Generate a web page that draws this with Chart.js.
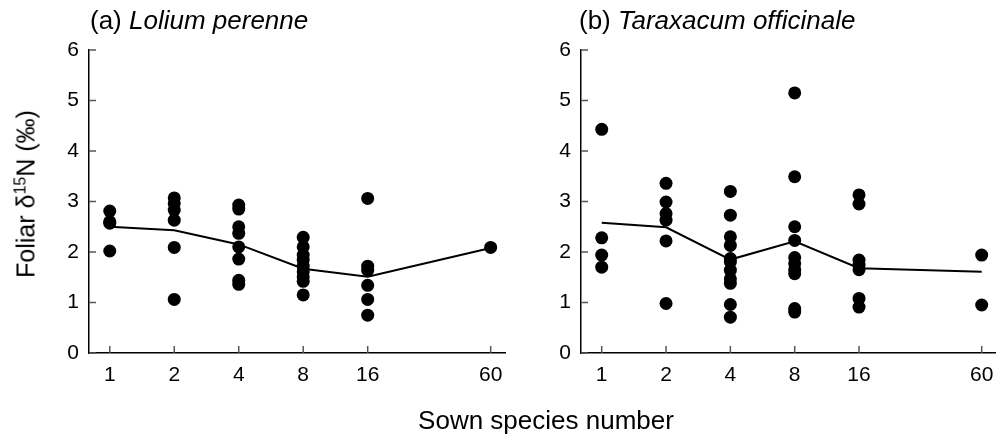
<!DOCTYPE html>
<html>
<head>
<meta charset="utf-8">
<script src="https://cdn.jsdelivr.net/npm/chart.js@4/dist/chart.umd.min.js"></script>
<style>
  body { margin: 0; background: #fff; overflow: hidden; }
  #wrap { position: relative; width: 996px; height: 438px; overflow: hidden; font-family: "Liberation Sans", Arial, sans-serif; color: #000; }
  .box { position: absolute; top: 0; height: 438px; }
  .title { position: absolute; top: 5px; font-size: 26px; line-height: 30px; white-space: nowrap; }
  .ylab { position: absolute; left: 26px; top: 194px; font-size: 25px; white-space: nowrap;
          transform: translate(-50%, -50%) rotate(-90deg); }
  .ylab sup { font-size: 16px; vertical-align: 9px; line-height: 0; }
  .xlab { position: absolute; left: 546px; top: 420px; font-size: 26px; white-space: nowrap;
          transform: translate(-50%, -50%); }
</style>
</head>
<body>
<div id="wrap">
  <div class="box" style="left:0;width:520px"><canvas id="chartA"></canvas></div>
  <div class="box" style="left:496px;width:515px"><canvas id="chartB"></canvas></div>
  <div class="title" style="left:90px">(a) <i>Lolium perenne</i></div>
  <div class="title" style="left:579px">(b) <i>Taraxacum officinale</i></div>
  <div class="ylab">Foliar &delta;<sup>15</sup>N (&permil;)</div>
  <div class="xlab">Sown species number</div>
</div>
<script>
// sown species number (x categories, log scale)
const sown = [1, 2, 4, 8, 16, 60];
const yTicks = [0, 1, 2, 3, 4, 5, 6];

// (a) Lolium perenne - plot values per sown level
const loliumPts = [
  [2.81, 2.60, 2.57, 2.02],
  [3.07, 2.96, 2.83, 2.63, 2.09, 1.06],
  [2.93, 2.85, 2.50, 2.37, 2.10, 1.86, 1.44, 1.36],
  [2.29, 2.10, 1.94, 1.84, 1.72, 1.61, 1.51, 1.42, 1.15],
  [3.06, 1.72, 1.64, 1.34, 1.06, 0.75],
  [2.09]
];
const loliumLine = [2.50, 2.43, 2.15, 1.67, 1.51, 2.08];

// (b) Taraxacum officinale
const taraxPts = [
  [4.43, 2.28, 1.94, 1.70],
  [3.36, 2.99, 2.76, 2.63, 2.22, 0.98],
  [3.20, 2.73, 2.30, 2.13, 1.87, 1.80, 1.64, 1.47, 1.38, 0.96, 0.71],
  [5.15, 3.49, 2.50, 2.23, 1.89, 1.77, 1.65, 1.57, 0.88, 0.81],
  [3.13, 2.95, 1.84, 1.74, 1.65, 1.08, 0.91],
  [1.94, 0.95]
];
const taraxLine = [2.58, 2.49, 1.85, 2.21, 1.68, 1.61];

const FONT = "'Liberation Sans', Arial, sans-serif";

// ticks pointing into the plot area
const innerTicks = {
  id: 'innerTicks',
  afterDatasetsDraw(chart) {
    const ctx = chart.ctx, xs = chart.scales.x, ys = chart.scales.y;
    ctx.save();
    ctx.strokeStyle = '#555';
    ctx.lineWidth = 1.5;
    ctx.beginPath();
    xs.ticks.forEach(t => {
      const px = xs.getPixelForValue(t.value);
      ctx.moveTo(px, ys.bottom);
      ctx.lineTo(px, ys.bottom - 7);
    });
    ys.ticks.forEach(t => {
      const py = ys.getPixelForValue(t.value);
      ctx.moveTo(xs.left, py);
      ctx.lineTo(xs.left + 7, py);
    });
    ctx.stroke();
    ctx.restore();
  }
};

function makeChart(id, pts, line, yWidth, rightPad) {
  const scatter = [];
  pts.forEach((grp, i) => grp.forEach(v => scatter.push({ x: sown[i], y: v })));
  const means = line.map((v, i) => ({ x: sown[i], y: v }));

  return new Chart(document.getElementById(id), {
    type: 'scatter',
    data: {
      datasets: [
        { data: scatter, backgroundColor: '#000', borderColor: '#000', pointRadius: 6.5, pointHoverRadius: 6.5, borderWidth: 0 },
        { data: means, showLine: true, borderColor: '#000', borderWidth: 2, pointRadius: 0, fill: false }
      ]
    },
    options: {
      responsive: true,
      maintainAspectRatio: false,
      animation: false,
      layout: { padding: { top: 50, right: rightPad, left: 0, bottom: 0 } },
      plugins: { legend: { display: false }, tooltip: { enabled: false } },
      scales: {
        x: {
          type: 'logarithmic',
          min: 0.8,
          max: 70,
          afterBuildTicks: s => { s.ticks = sown.map(v => ({ value: v })); },
          afterFit: s => { s.height = 85; },
          grid: { display: false, drawTicks: false },
          border: { color: '#000', width: 1.5 },
          ticks: { callback: v => v, autoSkip: false, maxRotation: 0, padding: 10, color: '#000', font: { family: FONT, size: 21 } }
        },
        y: {
          min: 0,
          max: 6,
          afterBuildTicks: s => { s.ticks = yTicks.map(v => ({ value: v })); },
          afterFit: s => { s.width = yWidth; },
          grid: { display: false, drawTicks: false },
          border: { color: '#000', width: 1.5 },
          ticks: { padding: 10, color: '#000', font: { family: FONT, size: 21 } }
        }
      }
    },
    plugins: [innerTicks]
  });
}

makeChart('chartA', loliumPts, loliumLine, 89, 15);
makeChart('chartB', taraxPts, taraxLine, 85, 15);
</script>
</body>
</html>
